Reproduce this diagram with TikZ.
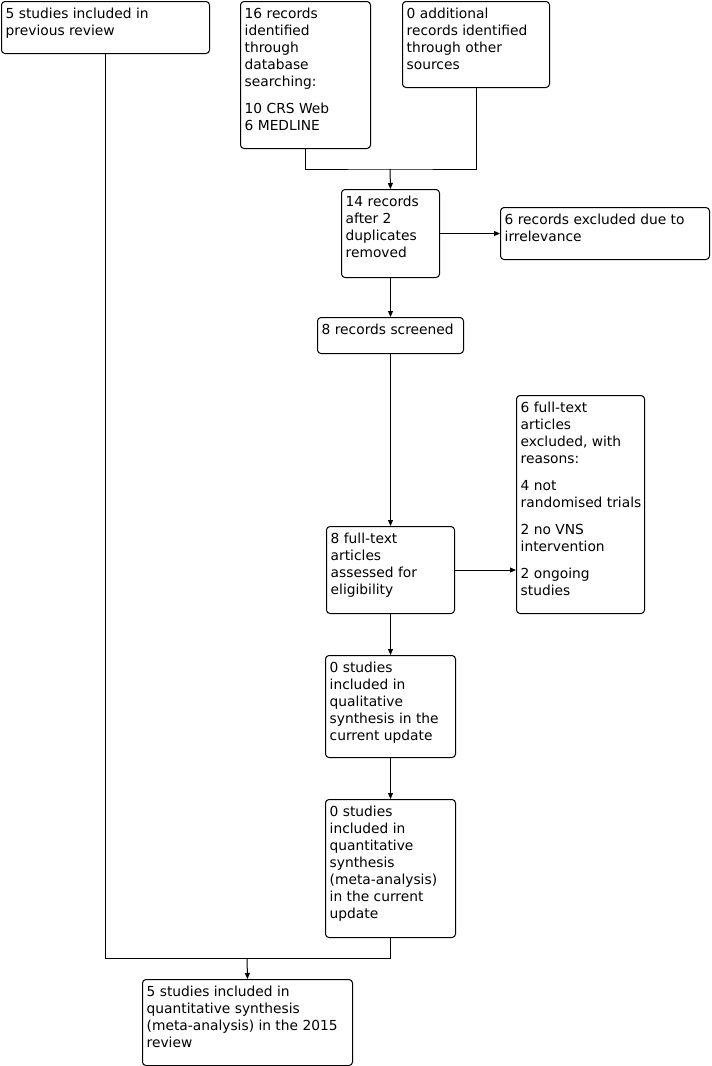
\documentclass[tikz,border=0pt]{standalone}
\usepackage{fontspec}
\setmainfont{DejaVu Sans}
\usetikzlibrary{arrows.meta}
\tikzset{
  box/.style={draw=black, line width=1pt, rounded corners=3.5pt, inner sep=0pt, anchor=north west},
  txt/.style={anchor=base west, inner sep=0pt, font=\fontsize{13.8}{17}\selectfont},
  conn/.style={draw=black, line width=1pt},
  arr/.style={conn, -{Triangle[length=6pt,width=5pt]}}
}
\newcommand{\bx}[6]{%
  \node[box, minimum width=#4pt, minimum height=#5pt] (#1) at (#2,#3) {};
  \node[txt] (#1t) at ([shift={(4.5pt,-17.5pt)}]#1.north west) {\parbox[t]{#4pt}{\raggedright #6}};
}
\begin{document}
\begin{tikzpicture}[x=1pt,y=-1pt]
\useasboundingbox (0,0) rectangle (712,1066);
\bx{A}{1}{1}{208}{52}{5 studies included in\\previous review}
\bx{B}{240}{1}{130}{147}{16 records\\identified\\through\\database\\searching:\\[10pt]10 CRS Web\\6 MEDLINE}
\bx{C}{402}{1}{147}{86}{0 additional\\records identified\\through other\\sources}
\bx{D}{341}{189}{98}{88}{14 records\\after 2\\duplicates\\removed}
\bx{E}{500}{207}{209}{52}{6 records excluded due to\\irrelevance}
\bx{F}{317}{317}{146}{36}{8 records screened}
\bx{G}{326}{526}{128}{87}{8 full-text\\articles\\assessed for\\eligibility}
\bx{H}{516}{395}{128}{218}{6 full-text\\articles\\excluded, with\\reasons:\\[10pt]4 not\\randomised trials\\[10pt]2 no VNS\\intervention\\[10pt]2 ongoing\\studies}
\bx{I}{325}{655}{130}{102}{0 studies\\included in\\qualitative\\synthesis in the\\current update}
\bx{J}{325}{799}{130}{138}{0 studies\\included in\\quantitative\\synthesis\\(meta-analysis)\\in the current\\update}
\bx{K}{142}{979}{210}{86}{5 studies included in\\quantitative synthesis\\(meta-analysis) in the 2015\\review}
\coordinate (m1) at (390,169);
\coordinate (m2) at (247,958);
\draw[conn] (B.south) |- (m1) -| (C.south);
\draw[arr] (m1) -- (D.north);
\draw[arr] (D.east) -- (E.west);
\draw[arr] (D.south) -- (F.north);
\draw[arr] (F.south) -- (G.north);
\draw[arr] (G.east) -- (H.west |- G.east);
\draw[arr] (G.south) -- (I.north);
\draw[arr] (I.south) -- (J.north);
\draw[conn] (A.south) |- (m2) -| (J.south);
\draw[arr] (m2) -- (K.north);
\end{tikzpicture}
\end{document}
